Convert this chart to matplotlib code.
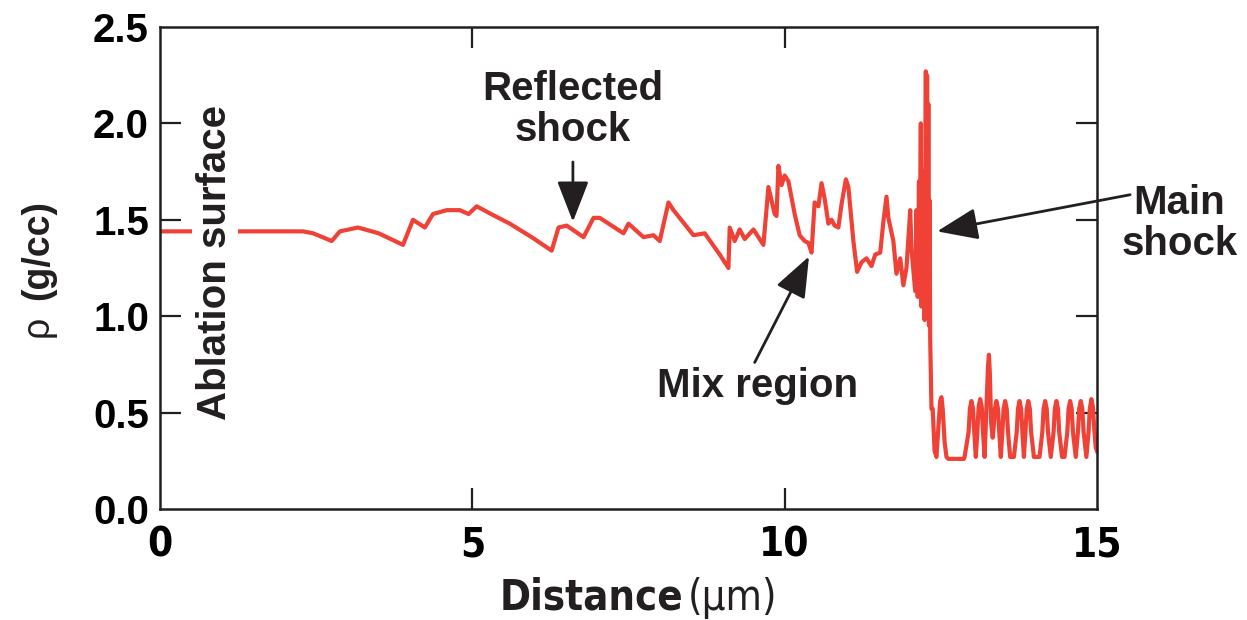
import matplotlib.pyplot as plt

# density profile, as (distance um, rho g/cc)
plateau = [(0.0, 1.44), (2.29, 1.44), (2.45, 1.43), (2.60, 1.41), (2.75, 1.39),
           (2.88, 1.44), (3.17, 1.46), (3.50, 1.43), (3.89, 1.37), (4.05, 1.50),
           (4.24, 1.46), (4.37, 1.53), (4.59, 1.55), (4.80, 1.55), (4.94, 1.53),
           (5.07, 1.57), (5.30, 1.53), (5.60, 1.48), (5.95, 1.41), (6.27, 1.34),
           (6.38, 1.46), (6.51, 1.47), (6.78, 1.41), (6.94, 1.51), (7.04, 1.51),
           (7.42, 1.43), (7.50, 1.48), (7.74, 1.41), (7.90, 1.42), (8.00, 1.39),
           (8.14, 1.59), (8.22, 1.55), (8.54, 1.42), (8.72, 1.43), (8.96, 1.32),
           (9.10, 1.25)]
mix = [(9.12, 1.46), (9.20, 1.39), (9.28, 1.45), (9.36, 1.40), (9.50, 1.45),
       (9.58, 1.41), (9.66, 1.37), (9.74, 1.67), (9.84, 1.53), (9.87, 1.52),
       (9.90, 1.78), (9.95, 1.68), (10.00, 1.73), (10.06, 1.70), (10.16, 1.53),
       (10.24, 1.42), (10.32, 1.39), (10.38, 1.38), (10.43, 1.33), (10.48, 1.59),
       (10.54, 1.57), (10.59, 1.69), (10.64, 1.61), (10.70, 1.48), (10.75, 1.50),
       (10.80, 1.47), (10.86, 1.46), (10.91, 1.58), (10.98, 1.71), (11.02, 1.67),
       (11.10, 1.39), (11.16, 1.23), (11.23, 1.28), (11.31, 1.30), (11.39, 1.26),
       (11.45, 1.32), (11.53, 1.33), (11.58, 1.49), (11.63, 1.62), (11.66, 1.51),
       (11.74, 1.39), (11.79, 1.22), (11.85, 1.30), (11.90, 1.16), (11.95, 1.25),
       (12.01, 1.55), (12.03, 1.35), (12.09, 1.13)]
shock = [(12.11, 1.55), (12.13, 1.10), (12.15, 1.70), (12.16, 1.20), (12.18, 2.00),
         (12.19, 1.05), (12.21, 1.75), (12.22, 1.10), (12.23, 1.60), (12.24, 0.98),
         (12.26, 2.27), (12.27, 1.15), (12.28, 2.25), (12.29, 1.05), (12.30, 2.10),
         (12.31, 0.95), (12.32, 1.60), (12.33, 0.88), (12.35, 0.52), (12.37, 0.52),
         (12.40, 0.30), (12.43, 0.27), (12.46, 0.42), (12.49, 0.56), (12.51, 0.58),
         (12.53, 0.52), (12.56, 0.35), (12.59, 0.27), (12.62, 0.26), (12.87, 0.26)]
ripples = [(12.88, 0.27), (12.945, 0.40), (12.965, 0.52), (12.99, 0.56), (13.015, 0.52),
           (13.035, 0.40), (13.06, 0.27), (13.085, 0.40), (13.105, 0.53), (13.13, 0.57),
           (13.155, 0.53), (13.175, 0.40), (13.20, 0.27), (13.225, 0.48), (13.255, 0.74),
           (13.27, 0.80), (13.285, 0.70), (13.305, 0.45), (13.33, 0.37), (13.345, 0.42),
           (13.365, 0.52), (13.39, 0.56), (13.415, 0.52), (13.435, 0.40), (13.46, 0.27),
           (13.485, 0.40), (13.505, 0.52), (13.53, 0.56), (13.555, 0.52), (13.575, 0.40),
           (13.61, 0.27), (13.67, 0.27), (13.715, 0.40), (13.735, 0.52), (13.76, 0.56),
           (13.785, 0.52), (13.805, 0.40), (13.83, 0.27), (13.855, 0.40), (13.875, 0.52),
           (13.90, 0.56), (13.925, 0.52), (13.945, 0.40), (13.99, 0.27), (14.08, 0.27),
           (14.125, 0.40), (14.145, 0.52), (14.17, 0.56), (14.195, 0.52), (14.215, 0.40),
           (14.26, 0.27), (14.305, 0.40), (14.325, 0.52), (14.35, 0.56), (14.375, 0.52),
           (14.395, 0.40), (14.44, 0.27), (14.48, 0.27), (14.525, 0.40), (14.545, 0.52),
           (14.57, 0.56), (14.595, 0.52), (14.615, 0.40), (14.66, 0.27), (14.695, 0.40),
           (14.715, 0.52), (14.74, 0.56), (14.765, 0.52), (14.785, 0.40), (14.83, 0.27),
           (14.865, 0.40), (14.885, 0.52), (14.91, 0.57), (14.935, 0.53), (14.955, 0.42),
           (14.98, 0.32), (15.0, 0.30)]

xticks = [0, 5, 10, 15]
yticks = [0.0, 0.5, 1.0, 1.5, 2.0, 2.5]

ink = '#231F20'
red = '#EF4136'
bold = ['Liberation Sans', 'DejaVu Sans']
narrow = dict(family='DejaVu Sans', stretch='condensed')

profile = plateau + mix + shock + ripples
dist = [p[0] for p in profile]
rho = [p[1] for p in profile]

W, H = 1247, 620
fig = plt.figure(figsize=(W / 100, H / 100), dpi=100)
ax = fig.add_axes([160 / W, 1 - 509 / H, (1097 - 160) / W, (509 - 27) / H])

ax.plot(dist, rho, color=red, lw=3, solid_joinstyle='round', zorder=2)

ax.set_xlim(0, 15)
ax.set_ylim(0, 2.5)
ax.set_xticks(xticks)
ax.set_yticks(yticks)
ax.set_xticklabels([str(t) for t in xticks], weight='bold', fontsize=29, **narrow)
ax.set_yticklabels([f'{t:.1f}' for t in yticks], family=bold, weight='bold', fontsize=29)
ax.tick_params(direction='in', length=15, width=1.6, color=ink, top=True, right=True, pad=8)
ax.tick_params(axis='x', pad=12)
for s in ax.spines.values():
    s.set_linewidth(1.8)
    s.set_color(ink)

# no tick marks on the corners
for t in ax.xaxis.get_major_ticks():
    if t.get_loc() in (0, 15):
        t.tick1line.set_visible(False)
        t.tick2line.set_visible(False)
for t in ax.yaxis.get_major_ticks():
    if t.get_loc() in (0.0, 2.5):
        t.tick1line.set_visible(False)
        t.tick2line.set_visible(False)

# axis titles (mixed weights)
fig.text(683 / W, 1 - 598 / H, 'Distance', weight='bold', fontsize=30,
         ha='right', va='center', color=ink, **narrow)
fig.text(688 / W, 1 - 598 / H, '(\u03bcm)', weight='normal', fontsize=30,
         ha='left', va='center', color=ink, **narrow)
fig.text(38 / W, 1 - 326 / H, '\u03c1', family=bold, weight='normal', fontsize=27,
         rotation=90, ha='center', va='center', color=ink)
fig.text(38 / W, 1 - 250 / H, '(g/cc)', family=bold, weight='bold', fontsize=27,
         rotation=90, ha='center', va='center', color=ink)

# annotations
ax.text(0.88, 1.28, 'Ablation surface', rotation=90, family=bold, weight='bold',
        fontsize=29, ha='center', va='center', color=ink, zorder=3,
        bbox=dict(facecolor='white', edgecolor='none', pad=3))

arrow = dict(arrowstyle='-|>,head_length=0.9,head_width=0.35', color=ink, lw=2,
             shrinkA=0, shrinkB=0, mutation_scale=28)
ax.text(6.61, 2.07, 'Reflected\nshock', family=bold, weight='bold', fontsize=29,
        ha='center', va='center', color=ink, linespacing=1.1)
ax.annotate('', xy=(6.61, 1.49), xytext=(6.61, 1.80), arrowprops=arrow)

ax.text(9.56, 0.64, 'Mix region', family=bold, weight='bold', fontsize=29,
        ha='center', va='center', color=ink)
ax.annotate('', xy=(10.39, 1.31), xytext=(9.52, 0.76), arrowprops=arrow)

ax.text(16.32, 1.48, 'Main\nshock', family=bold, weight='bold', fontsize=29,
        ha='center', va='center', color=ink, linespacing=1.1, clip_on=False)
ax.annotate('', xy=(12.44, 1.44), xytext=(15.53, 1.63), arrowprops=arrow,
            annotation_clip=False)

fig.savefig('out.png', dpi=100)
